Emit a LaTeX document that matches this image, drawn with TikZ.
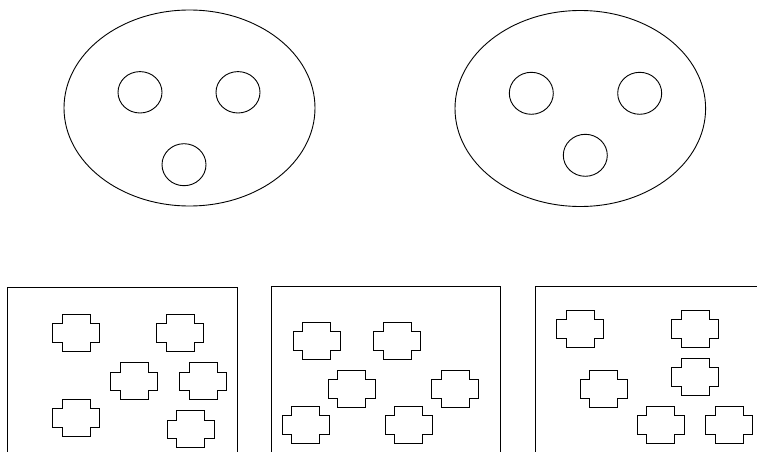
\documentclass[tikz,border=0pt]{standalone}
\begin{document}
\begin{tikzpicture}[x=1pt,y=-1pt,line width=0.9pt,
  cross/.pic={\draw (-14,-18.5) -- (14,-18.5) -- (14,-9.3) -- (23.5,-9.3) -- (23.5,9.3) -- (14,9.3) -- (14,18.5) -- (-14,18.5) -- (-14,9.3) -- (-23.5,9.3) -- (-23.5,-9.3) -- (-14,-9.3) -- cycle;}]
\useasboundingbox (0,0) rectangle (757,452);
\clip (0,0) rectangle (757,452);
% faces
\draw (189.5,108) ellipse [x radius=125.5, y radius=98];
\draw (140,92.3) ellipse [x radius=22, y radius=20.7];
\draw (238,92.3) ellipse [x radius=22, y radius=20.7];
\draw (184,164.7) ellipse [x radius=22, y radius=21];
\draw (580.3,108.5) ellipse [x radius=125.3, y radius=98];
\draw (531.3,93.3) ellipse [x radius=22, y radius=21];
\draw (639.7,93.3) ellipse [x radius=22, y radius=21];
\draw (585.3,155.3) ellipse [x radius=22, y radius=21];
% boxes
\draw (7.3,460) -- (7.3,287) -- (237,287) -- (237,460);
\draw (271,460) -- (271,286.3) -- (500.3,286.3) -- (500.3,460);
\draw (535,460) -- (535,286.7) -- (770,286.7);
% box 1 crosses
\pic at (76.3,333) {cross};
\pic at (180,333) {cross};
\pic at (134,381.3) {cross};
\pic at (203,381.3) {cross};
\pic at (76.3,417.7) {cross};
\pic at (190.8,429.3) {cross};
% box 2 crosses
\pic at (316.8,340.8) {cross};
\pic at (397.3,340.8) {cross};
\pic at (351.7,389) {cross};
\pic at (455,389) {cross};
\pic at (305.7,424.8) {cross};
\pic at (408.7,424.8) {cross};
% box 3 crosses
\pic at (580.2,328.7) {cross};
\pic at (695.2,328.7) {cross};
\pic at (603.5,388.8) {cross};
\pic at (695.2,376.8) {cross};
\pic at (660.5,424.8) {cross};
\pic at (729,424.8) {cross};
\end{tikzpicture}
\end{document}
